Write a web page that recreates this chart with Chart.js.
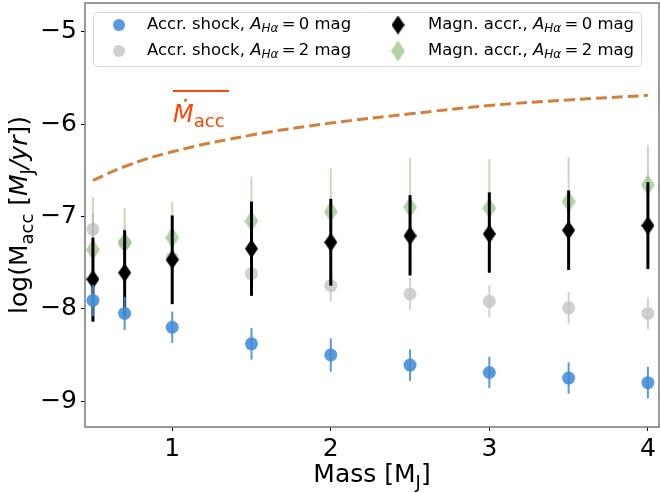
<!DOCTYPE html>
<html lang="en">
  <head>
    <meta charset="UTF-8" />
    <title>Accretion rate vs mass</title>
    <script src="https://cdn.jsdelivr.net/npm/chart.js"></script>
    <style>
      * {
        margin: 0;
        padding: 0;
      }
      body {
        background: white;
      }
      #wrap {
        width: 660px;
        height: 493px;
      }
    </style>
  </head>
  <body>
    <div id="wrap"><canvas id="accChart" width="660" height="493"></canvas></div>

    <script>
      // data
      const masses = [0.5, 0.7, 1.0, 1.5, 2.0, 2.5, 3.0, 3.5, 4.0];
      const xTicks = [1, 2, 3, 4];
      const yTicks = [-9, -8, -7, -6, -5];

      const mdotCurve = [-6.61, -6.46, -6.3, -6.12, -5.99, -5.89, -5.8, -5.74, -5.69];

      const shock0 = [-7.91, -8.05, -8.2, -8.38, -8.5, -8.61, -8.69, -8.75, -8.8];
      const shock0Err = [0.17, 0.18, 0.17, 0.17, 0.18, 0.17, 0.17, 0.17, 0.17];

      const shock2 = [-7.14, -7.29, -7.45, -7.62, -7.75, -7.84, -7.92, -7.99, -8.05];
      const shock2Err = [0.17, 0.17, 0.17, 0.17, 0.17, 0.17, 0.17, 0.17, 0.17];

      const magn0 = [-7.68, -7.61, -7.47, -7.35, -7.28, -7.21, -7.19, -7.15, -7.1];
      const magn0Hi = [-7.23, -7.15, -6.99, -6.84, -6.81, -6.77, -6.74, -6.72, -6.63];
      const magn0Lo = [-8.14, -8.07, -7.95, -7.86, -7.75, -7.64, -7.61, -7.58, -7.57];

      const magn2 = [-7.36, -7.28, -7.23, -7.05, -6.95, -6.9, -6.91, -6.84, -6.66];
      const magn2Hi = [-6.79, -6.91, -6.84, -6.57, -6.48, -6.37, -6.38, -6.36, -6.23];
      const magn2Lo = [-7.93, -7.65, -7.62, -7.53, -7.42, -7.43, -7.44, -7.32, -7.09];

      const FONT = "'DejaVu Sans', sans-serif";
      const blue = "rgba(65, 140, 215, 0.88)";
      const grey = "rgba(200, 200, 200, 0.85)";
      const green = "rgba(140, 185, 120, 0.65)";
      const greenBar = "rgba(140, 185, 120, 0.5)";
      const mdotColor = "#d2803a";
      const labelColor = "#ff4500";

      // thin diamond marker (matplotlib "d")
      function diamond(w, h, fill) {
        const c = document.createElement("canvas");
        c.width = w;
        c.height = h;
        const g = c.getContext("2d");
        g.fillStyle = fill;
        g.beginPath();
        g.moveTo(w / 2, 0);
        g.lineTo(w, h / 2);
        g.lineTo(w / 2, h);
        g.lineTo(0, h / 2);
        g.closePath();
        g.fill();
        return c;
      }
      const blackDiamond = diamond(13, 19, "#000");
      const greenDiamond = diamond(14, 21, green);

      function pts(ys) {
        return masses.map((m, i) => ({ x: m, y: ys[i] }));
      }

      // error bars as [low, high]
      const errBars = {
        shock0: { lo: shock0.map((v, i) => v - shock0Err[i]), hi: shock0.map((v, i) => v + shock0Err[i]), color: blue, width: 2 },
        shock2: { lo: shock2.map((v, i) => v - shock2Err[i]), hi: shock2.map((v, i) => v + shock2Err[i]), color: grey, width: 2 },
        magn0: { lo: magn0Lo, hi: magn0Hi, color: "#000", width: 3 },
        magn2: { lo: magn2Lo, hi: magn2Hi, color: greenBar, width: 2 },
      };

      // draw a run of text pieces: [text, font, dy]
      function richWidth(ctx, parts) {
        let w = 0;
        parts.forEach((p) => {
          ctx.font = p[1];
          w += ctx.measureText(p[0]).width;
        });
        return w;
      }
      function drawRich(ctx, parts, x, y) {
        parts.forEach((p) => {
          ctx.font = p[1];
          ctx.fillText(p[0], x, y + (p[2] || 0));
          x += ctx.measureText(p[0]).width;
        });
      }

      const errorBarPlugin = {
        id: "errorBars",
        beforeDatasetDraw(chart, args) {
          const ds = chart.data.datasets[args.index];
          const eb = errBars[ds.key];
          if (!eb) return;
          const xs = chart.scales.x;
          const ys = chart.scales.y;
          const c = chart.ctx;
          c.save();
          c.strokeStyle = eb.color;
          c.lineWidth = eb.width;
          masses.forEach((m, i) => {
            const px = xs.getPixelForValue(m);
            c.beginPath();
            c.moveTo(px, ys.getPixelForValue(eb.lo[i]));
            c.lineTo(px, ys.getPixelForValue(eb.hi[i]));
            c.stroke();
          });
          c.restore();
        },
      };

      const decorPlugin = {
        id: "decor",
        afterDraw(chart) {
          const c = chart.ctx;
          const a = chart.chartArea;
          c.save();

          // frame
          c.strokeStyle = "#808080";
          c.lineWidth = 1.6;
          c.strokeRect(a.left, a.top, a.right - a.left, a.bottom - a.top);

          // legend box
          c.fillStyle = "rgba(255,255,255,0.85)";
          c.strokeStyle = "#d8d8d8";
          c.lineWidth = 1;
          c.beginPath();
          c.roundRect(93.5, 12.5, 548, 54, 4);
          c.fill();
          c.stroke();

          const rows = [25, 51];
          // markers
          c.fillStyle = blue;
          c.beginPath();
          c.arc(119, rows[0], 6, 0, Math.PI * 2);
          c.fill();
          c.fillStyle = grey;
          c.beginPath();
          c.arc(119, rows[1], 6, 0, Math.PI * 2);
          c.fill();
          c.drawImage(blackDiamond, 398 - 6.5, rows[0] - 9.5);
          c.drawImage(greenDiamond, 398 - 7, rows[1] - 10.5);

          c.fillStyle = "#000";
          c.textBaseline = "middle";
          const up = "16.5px " + FONT;
          const it = "italic 16.5px " + FONT;
          const sub = "italic 12px " + FONT;
          const lbl = (name, mag) => [
            [name + " ", up],
            ["A", it],
            ["Hα", sub, 4],
            ["\u2009=\u2009" + mag + " mag", up],
          ];
          drawRich(c, lbl("Accr. shock,", 0), 147, rows[0]);
          drawRich(c, lbl("Accr. shock,", 2), 147, rows[1]);
          drawRich(c, lbl("Magn. accr.,", 0), 428, rows[0]);
          drawRich(c, lbl("Magn. accr.,", 2), 428, rows[1]);

          // Mdot label
          c.fillStyle = labelColor;
          c.strokeStyle = labelColor;
          c.lineWidth = 2;
          c.beginPath();
          c.moveTo(173, 91);
          c.lineTo(229, 91);
          c.stroke();
          c.textBaseline = "alphabetic";
          drawRich(c, [
            ["Ṁ", "italic 24px " + FONT],
            ["acc", "18px " + FONT, 5],
          ], 173, 122);

          // axis titles
          c.fillStyle = "#000";
          const big = "25px " + FONT;
          const bigIt = "italic 25px " + FONT;
          const small = "18px " + FONT;
          const xt = [["Mass [M", big], ["J", small, 6], ["]", big]];
          const cx = (a.left + a.right) / 2;
          drawRich(c, xt, cx - richWidth(c, xt) / 2, 482);

          const yt = [
            ["log(M", big],
            ["acc", small, 6],
            [" [", big],
            ["M", bigIt],
            ["J", small, 6],
            ["/yr", bigIt],
            ["])", big],
          ];
          c.translate(27, (a.top + a.bottom) / 2);
          c.rotate(-Math.PI / 2);
          drawRich(c, yt, -richWidth(c, yt) / 2, 0);
          c.restore();
        },
      };

      const tickFont = { family: FONT, size: 25 };

      new Chart(document.getElementById("accChart"), {
        type: "scatter",
        data: {
          datasets: [
            {
              key: "mdot",
              type: "line",
              data: pts(mdotCurve),
              borderColor: mdotColor,
              borderWidth: 3,
              borderDash: [11, 5],
              pointRadius: 0,
              tension: 0.4,
              order: 5,
            },
            {
              key: "shock0",
              data: pts(shock0),
              backgroundColor: blue,
              borderWidth: 0,
              pointRadius: 6.5,
              order: 1,
            },
            {
              key: "shock2",
              data: pts(shock2),
              backgroundColor: grey,
              borderWidth: 0,
              pointRadius: 6.5,
              order: 4,
            },
            {
              key: "magn0",
              data: pts(magn0),
              pointStyle: blackDiamond,
              order: 2,
            },
            {
              key: "magn2",
              data: pts(magn2),
              pointStyle: greenDiamond,
              order: 3,
            },
          ],
        },
        options: {
          responsive: false,
          animation: false,
          events: [],
          layout: { autoPadding: false, padding: { top: 3, right: 1 } },
          plugins: {
            legend: { display: false },
            tooltip: { enabled: false },
          },
          scales: {
            x: {
              type: "linear",
              min: 0.45,
              max: 4.07,
              afterBuildTicks: (s) => {
                s.ticks = xTicks.map((v) => ({ value: v }));
              },
              afterFit: (s) => {
                s.height = 66;
                s.paddingLeft = 0;
                s.paddingRight = 0;
              },
              border: { display: false },
              grid: { drawOnChartArea: false, tickLength: 4, color: "#000", tickWidth: 1 },
              ticks: { font: tickFont, color: "#000", padding: 3, maxRotation: 0 },
            },
            y: {
              type: "linear",
              min: -9.28,
              max: -4.69,
              afterBuildTicks: (s) => {
                s.ticks = yTicks.map((v) => ({ value: v }));
              },
              afterFit: (s) => {
                s.width = 85;
                s.paddingTop = 0;
                s.paddingBottom = 0;
              },
              border: { display: false },
              grid: { drawOnChartArea: false, tickLength: 4, color: "#000", tickWidth: 1 },
              ticks: {
                font: tickFont,
                color: "#000",
                padding: 4,
                callback: (v) => (v < 0 ? "\u2212" + Math.abs(v) : String(v)),
              },
            },
          },
        },
        plugins: [errorBarPlugin, decorPlugin],
      });
    </script>
  </body>
</html>
